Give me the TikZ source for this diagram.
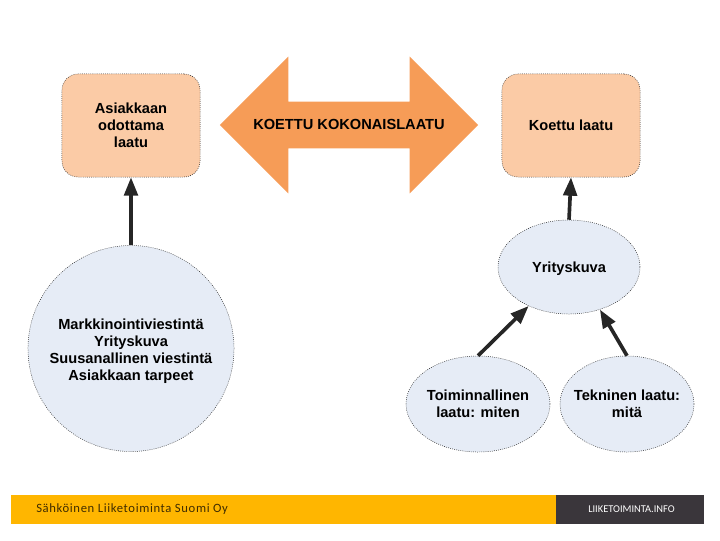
\documentclass[tikz,border=0pt]{standalone}
\usepackage{fontspec}
\setmainfont{Liberation Sans}
\newfontfamily\footerfont[LetterSpace=5]{Carlito}
\newfontfamily\sitefont{Carlito}
\usetikzlibrary{shapes.geometric,shapes.arrows,arrows.meta}
\definecolor{peach}{HTML}{FBCBA6}
\definecolor{bluefill}{HTML}{E6ECF6}
\definecolor{arroworange}{HTML}{F69C57}
\definecolor{footeryellow}{HTML}{FFB600}
\definecolor{footerdark}{HTML}{3A363B}
\tikzset{
	labeltext/.style={font=\bfseries\fontsize{10.4}{12}\selectfont,align=center,text=black},
	qualitybox/.style={labeltext,draw=black!85,line width=0.35pt,dash pattern=on 0.6pt off 0.9pt,fill=peach,rounded corners=0.4cm,minimum width=3.45cm,minimum height=2.575cm},
	factor/.style={labeltext,ellipse,draw=black!85,line width=0.35pt,dash pattern=on 0.6pt off 0.9pt,fill=bluefill,inner sep=-0.6cm},
	influence/.style={line width=2.6pt,color=black!85,-{Triangle[length=0.46cm,width=0.34cm]}}
}
\begin{document}
\begin{tikzpicture}[x=0.025cm,y=-0.025cm]
	\useasboundingbox (0,0) rectangle (720,540);
	\node[qualitybox] (odotettu) at (131,125.5) {Asiakkaan\\odottama\\laatu};
	\node[qualitybox] (koettu) at (571,125.5) {Koettu laatu};
	\node[labeltext,double arrow,fill=arroworange,double arrow head extend=1.125cm,double arrow head indent=0pt,minimum height=6.45cm,text height=0.25cm,text depth=0.05cm,inner ysep=0.425cm,inner xsep=0pt] (kokonais) at (349,125) {KOETTU KOKONAISLAATU};
	\node[factor,minimum width=5.15cm,minimum height=5.15cm] (viestinta) at (131,348.5) {\rule{0pt}{11pt}Markkinointiviestintä\\Yrityskuva\\Suusanallinen viestintä\\Asiakkaan tarpeet};
	\node[factor,minimum width=3.55cm,minimum height=2.35cm,text depth=0pt] (yrityskuva) at (569,267) {Yrityskuva};
	\node[factor,minimum width=3.6cm,minimum height=2.4cm] (toiminnallinen) at (478,404) {Toiminnallinen\\laatu: miten};
	\node[factor,minimum width=3.35cm,minimum height=2.4cm] (tekninen) at (627,404) {Tekninen laatu:\\mitä};
	\draw[influence] (viestinta.north) -- (odotettu.south);
	\draw[influence] (yrityskuva.north) -- (koettu.south);
	\draw[influence] (toiminnallinen.north) -- (yrityskuva.224);
	\draw[influence] (tekninen.north) -- (yrityskuva.306);
	% footer
	\node[fill=footeryellow,minimum width=13.625cm,minimum height=0.725cm,inner sep=0pt] (footerleft) at (283.5,509.5) {};
	\node[fill=footerdark,minimum width=3.7cm,minimum height=0.725cm,inner sep=0pt] (footerright) at (630,509.5) {};
	\node[anchor=west,inner sep=0pt,text=black!75!footeryellow,font=\footerfont\fontsize{9}{10}\selectfont] (company) at (36,509.5) {Sähköinen Liiketoiminta Suomi Oy};
	\node[inner sep=0pt,text=white,font=\sitefont\fontsize{7.4}{8}\selectfont] (site) at (631.5,509.5) {LIIKETOIMINTA.INFO};
\end{tikzpicture}
\end{document}
